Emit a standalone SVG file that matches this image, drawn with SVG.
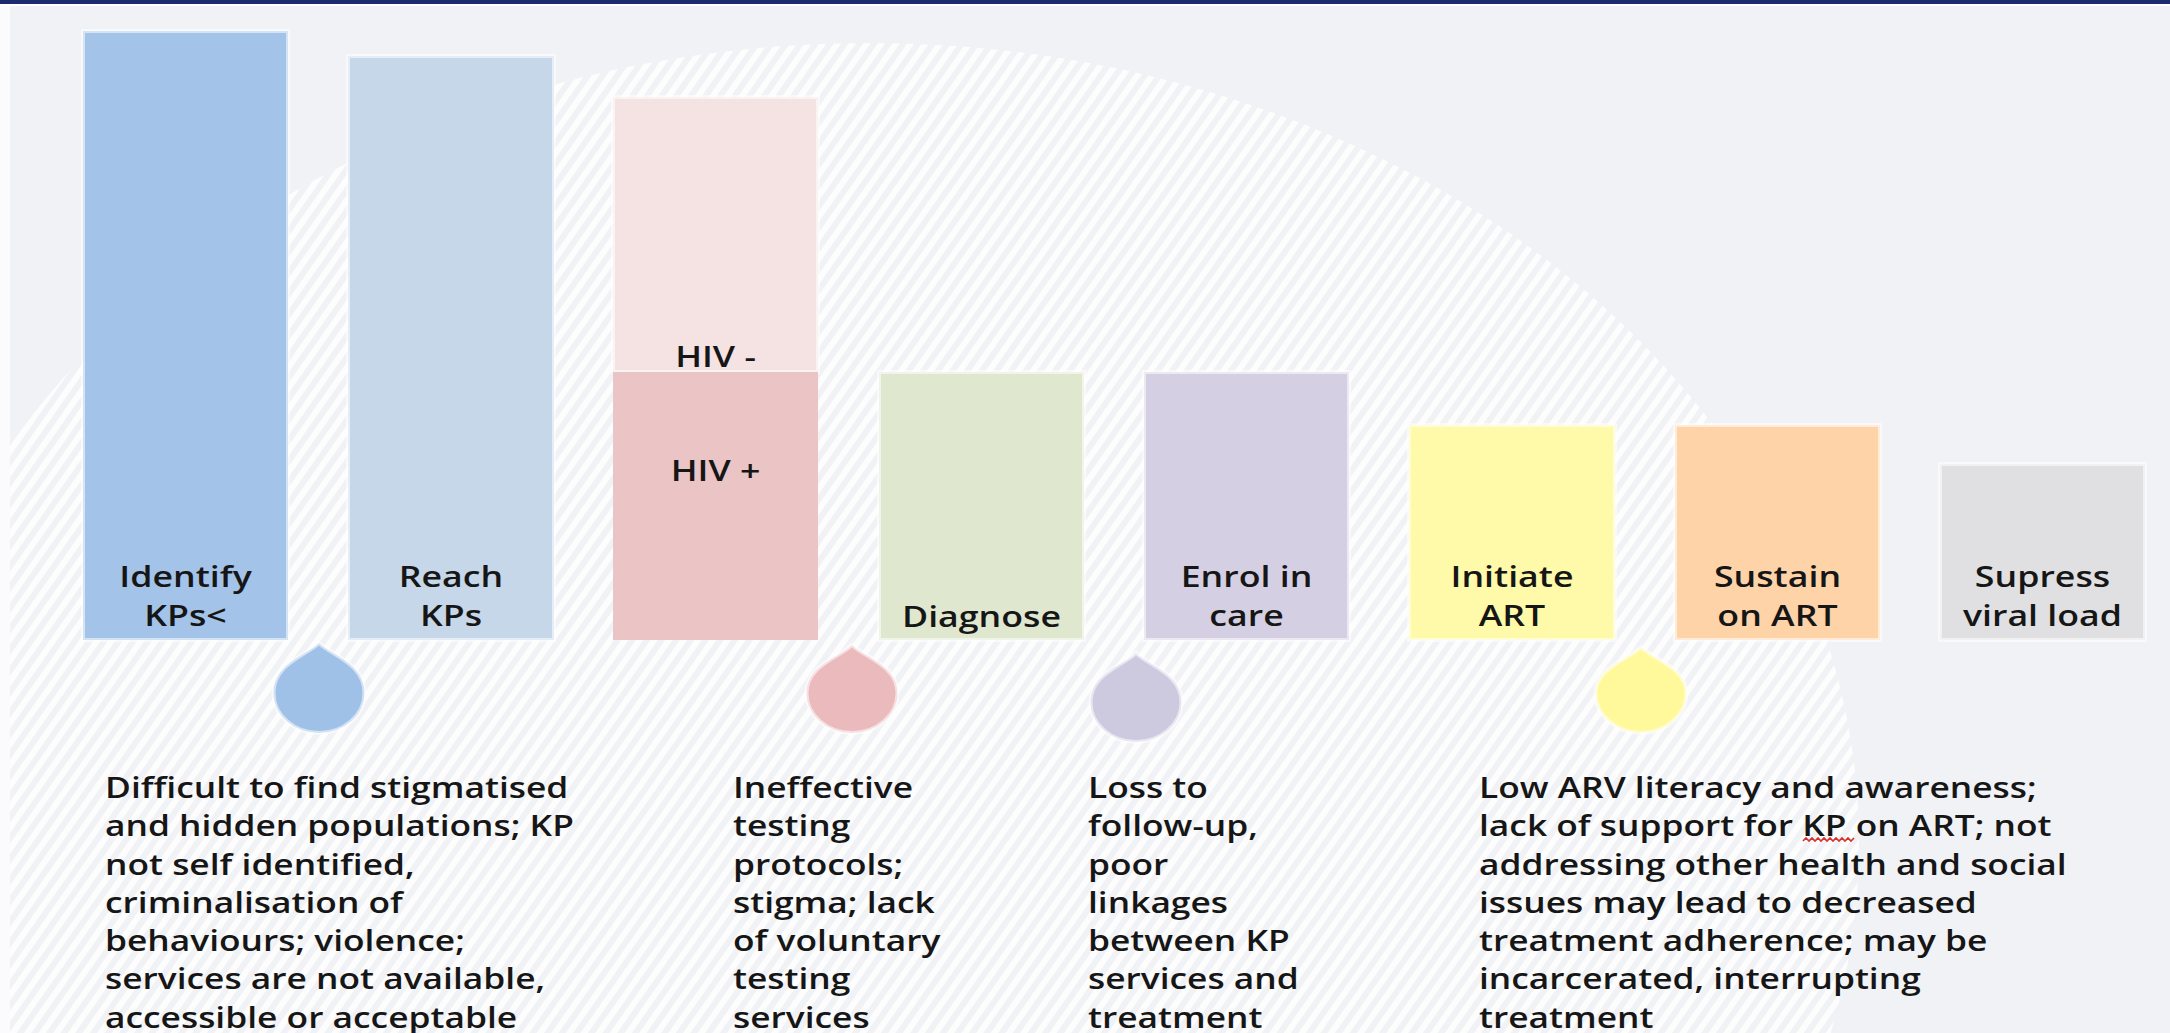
<svg xmlns="http://www.w3.org/2000/svg" width="2170" height="1033" viewBox="0 0 2170 1033">
  <defs>
    <style>
      .lbl { font-family: "Open Sans", "Liberation Sans", sans-serif; font-size: 28.8px; font-weight: 600; fill: #161616; text-anchor: middle; }
      .body { font-family: "Open Sans", "Liberation Sans", sans-serif; font-size: 28.5px; font-weight: 600; fill: #161616; }
      .bar { stroke: #ffffff; stroke-opacity: 0.55; stroke-width: 4; }
      .drop { stroke: #ffffff; stroke-opacity: 0.55; stroke-width: 4; }
    </style>
    <!-- diagonal pale stripes for the large rounded backdrop -->
    <pattern id="hatch" patternUnits="userSpaceOnUse" width="12" height="12" patternTransform="rotate(35)">
      <rect x="0" y="0" width="12" height="12" fill="#f1f2f5"/>
      <rect x="0" y="0" width="6" height="12" fill="#fdfdfd"/>
    </pattern>
    <clipPath id="page">
      <rect x="0" y="0" width="2170" height="1033"/>
    </clipPath>
  </defs>

  <!-- page background -->
  <g id="background">
    <rect x="0" y="0" width="2170" height="1033" fill="#f1f2f6"/>
    <ellipse cx="869" cy="843" rx="990" ry="800" fill="url(#hatch)" clip-path="url(#page)"/>
    <rect x="0" y="0" width="10" height="1033" fill="#fbfbfd"/>
    <rect x="0" y="0" width="2170" height="4" fill="#1b2b6e"/>
    <rect x="0" y="4" width="2170" height="2" fill="#ffffff"/>
  </g>

  <!-- cascade stages -->
  <g id="stage-identify">
    <rect class="bar" x="83" y="31" width="205" height="609" fill="#a3c3e8"/>
    <text class="lbl" transform="translate(185.5 587) scale(1.24 1)"><tspan x="0" y="0">Identify</tspan><tspan x="0" y="39.5">KPs&lt;</tspan></text>
  </g>
  <g id="stage-reach">
    <rect class="bar" x="348" y="56" width="206" height="584" fill="#c6d7ea"/>
    <text class="lbl" transform="translate(451 587) scale(1.24 1)"><tspan x="0" y="0">Reach</tspan><tspan x="0" y="39.5">KPs</tspan></text>
  </g>
  <g id="stage-test">
    <rect class="bar" x="613" y="97" width="205" height="275" fill="#f5e2e3"/>
    <rect x="613" y="372" width="205" height="268" fill="#ebc4c5"/>
    <text class="lbl" transform="translate(715.5 367) scale(1.24 1)">HIV -</text>
    <text class="lbl" transform="translate(715.5 481) scale(1.24 1)">HIV +</text>
  </g>
  <g id="stage-diagnose">
    <rect class="bar" x="879" y="372" width="205" height="268" fill="#dfe7cf"/>
    <text class="lbl" transform="translate(981.5 627) scale(1.24 1)">Diagnose</text>
  </g>
  <g id="stage-enrol">
    <rect class="bar" x="1144" y="372" width="205" height="268" fill="#d5cfe4"/>
    <text class="lbl" transform="translate(1246.5 587) scale(1.24 1)"><tspan x="0" y="0">Enrol in</tspan><tspan x="0" y="39.5">care</tspan></text>
  </g>
  <g id="stage-initiate">
    <rect class="bar" x="1409" y="425" width="206" height="215" fill="#fffaa9"/>
    <text class="lbl" transform="translate(1512 587) scale(1.24 1)"><tspan x="0" y="0">Initiate</tspan><tspan x="0" y="39.5">ART</tspan></text>
  </g>
  <g id="stage-sustain">
    <rect class="bar" x="1675" y="425" width="205" height="215" fill="#fed3a8"/>
    <text class="lbl" transform="translate(1777.5 587) scale(1.24 1)"><tspan x="0" y="0">Sustain</tspan><tspan x="0" y="39.5">on ART</tspan></text>
  </g>
  <g id="stage-suppress">
    <rect class="bar" x="1940" y="464" width="205" height="176" fill="#e0e0e3"/>
    <text class="lbl" transform="translate(2042.5 587) scale(1.24 1)"><tspan x="0" y="0">Supress</tspan><tspan x="0" y="39.5">viral load</tspan></text>
  </g>

  <!-- leak drops between stages -->
  <g id="drops">
    <path id="drop-reach" class="drop" fill="#9fc1e7" d="M319 643 C333 656 364.5 664 364.5 693 A45.5 40 0 0 1 273.5 693 C273.5 664 305 656 319 643 Z"/>
    <path id="drop-test" class="drop" fill="#ebbabc" d="M852 645 C866 658 897.5 666 897.5 693 A45.5 40 0 0 1 806.5 693 C806.5 666 838 658 852 645 Z"/>
    <path id="drop-enrol" class="drop" fill="#cdc9df" d="M1136 653 C1150 666 1181.5 674 1181.5 702 A45.5 40 0 0 1 1090.5 702 C1090.5 674 1122 666 1136 653 Z"/>
    <path id="drop-art" class="drop" fill="#fff99c" d="M1641 647 C1655 660 1686.5 668 1686.5 693 A45.5 40 0 0 1 1595.5 693 C1595.5 668 1627 660 1641 647 Z"/>
  </g>

  <!-- barriers under each drop -->
  <g id="barrier-identify">
    <text class="body" transform="translate(105 798) scale(1.24 1)">
      <tspan x="0" y="0">Difficult to find stigmatised</tspan>
      <tspan x="0" y="38.3">and hidden populations; KP</tspan>
      <tspan x="0" y="76.6">not self identified,</tspan>
      <tspan x="0" y="114.9">criminalisation of</tspan>
      <tspan x="0" y="153.2">behaviours; violence;</tspan>
      <tspan x="0" y="191.5">services are not available,</tspan>
      <tspan x="0" y="229.8">accessible or acceptable</tspan>
    </text>
  </g>
  <g id="barrier-testing">
    <text class="body" transform="translate(733 798) scale(1.24 1)">
      <tspan x="0" y="0">Ineffective</tspan>
      <tspan x="0" y="38.3">testing</tspan>
      <tspan x="0" y="76.6">protocols;</tspan>
      <tspan x="0" y="114.9">stigma; lack</tspan>
      <tspan x="0" y="153.2">of voluntary</tspan>
      <tspan x="0" y="191.5">testing</tspan>
      <tspan x="0" y="229.8">services</tspan>
    </text>
  </g>
  <g id="barrier-linkage">
    <text class="body" transform="translate(1088 798) scale(1.24 1)">
      <tspan x="0" y="0">Loss to</tspan>
      <tspan x="0" y="38.3">follow-up,</tspan>
      <tspan x="0" y="76.6">poor</tspan>
      <tspan x="0" y="114.9">linkages</tspan>
      <tspan x="0" y="153.2">between KP</tspan>
      <tspan x="0" y="191.5">services and</tspan>
      <tspan x="0" y="229.8">treatment</tspan>
    </text>
  </g>
  <g id="barrier-art">
    <text class="body" transform="translate(1479 798) scale(1.24 1)">
      <tspan x="0" y="0">Low ARV literacy and awareness;</tspan>
      <tspan x="0" y="38.3">lack of support for KP on ART; not</tspan>
      <tspan x="0" y="76.6">addressing other health and social</tspan>
      <tspan x="0" y="114.9">issues may lead to decreased</tspan>
      <tspan x="0" y="153.2">treatment adherence; may be</tspan>
      <tspan x="0" y="191.5">incarcerated, interrupting</tspan>
      <tspan x="0" y="229.8">treatment</tspan>
    </text>
    <!-- spell-check squiggle under "KP" -->
    <polyline fill="none" stroke="#d9302a" stroke-width="1.6" points="1803,841 1806,838 1809,841 1812,838 1815,841 1818,838 1821,841 1824,838 1827,841 1830,838 1833,841 1836,838 1839,841 1842,838 1845,841 1848,838 1851,841 1854,838"/>
  </g>
</svg>
